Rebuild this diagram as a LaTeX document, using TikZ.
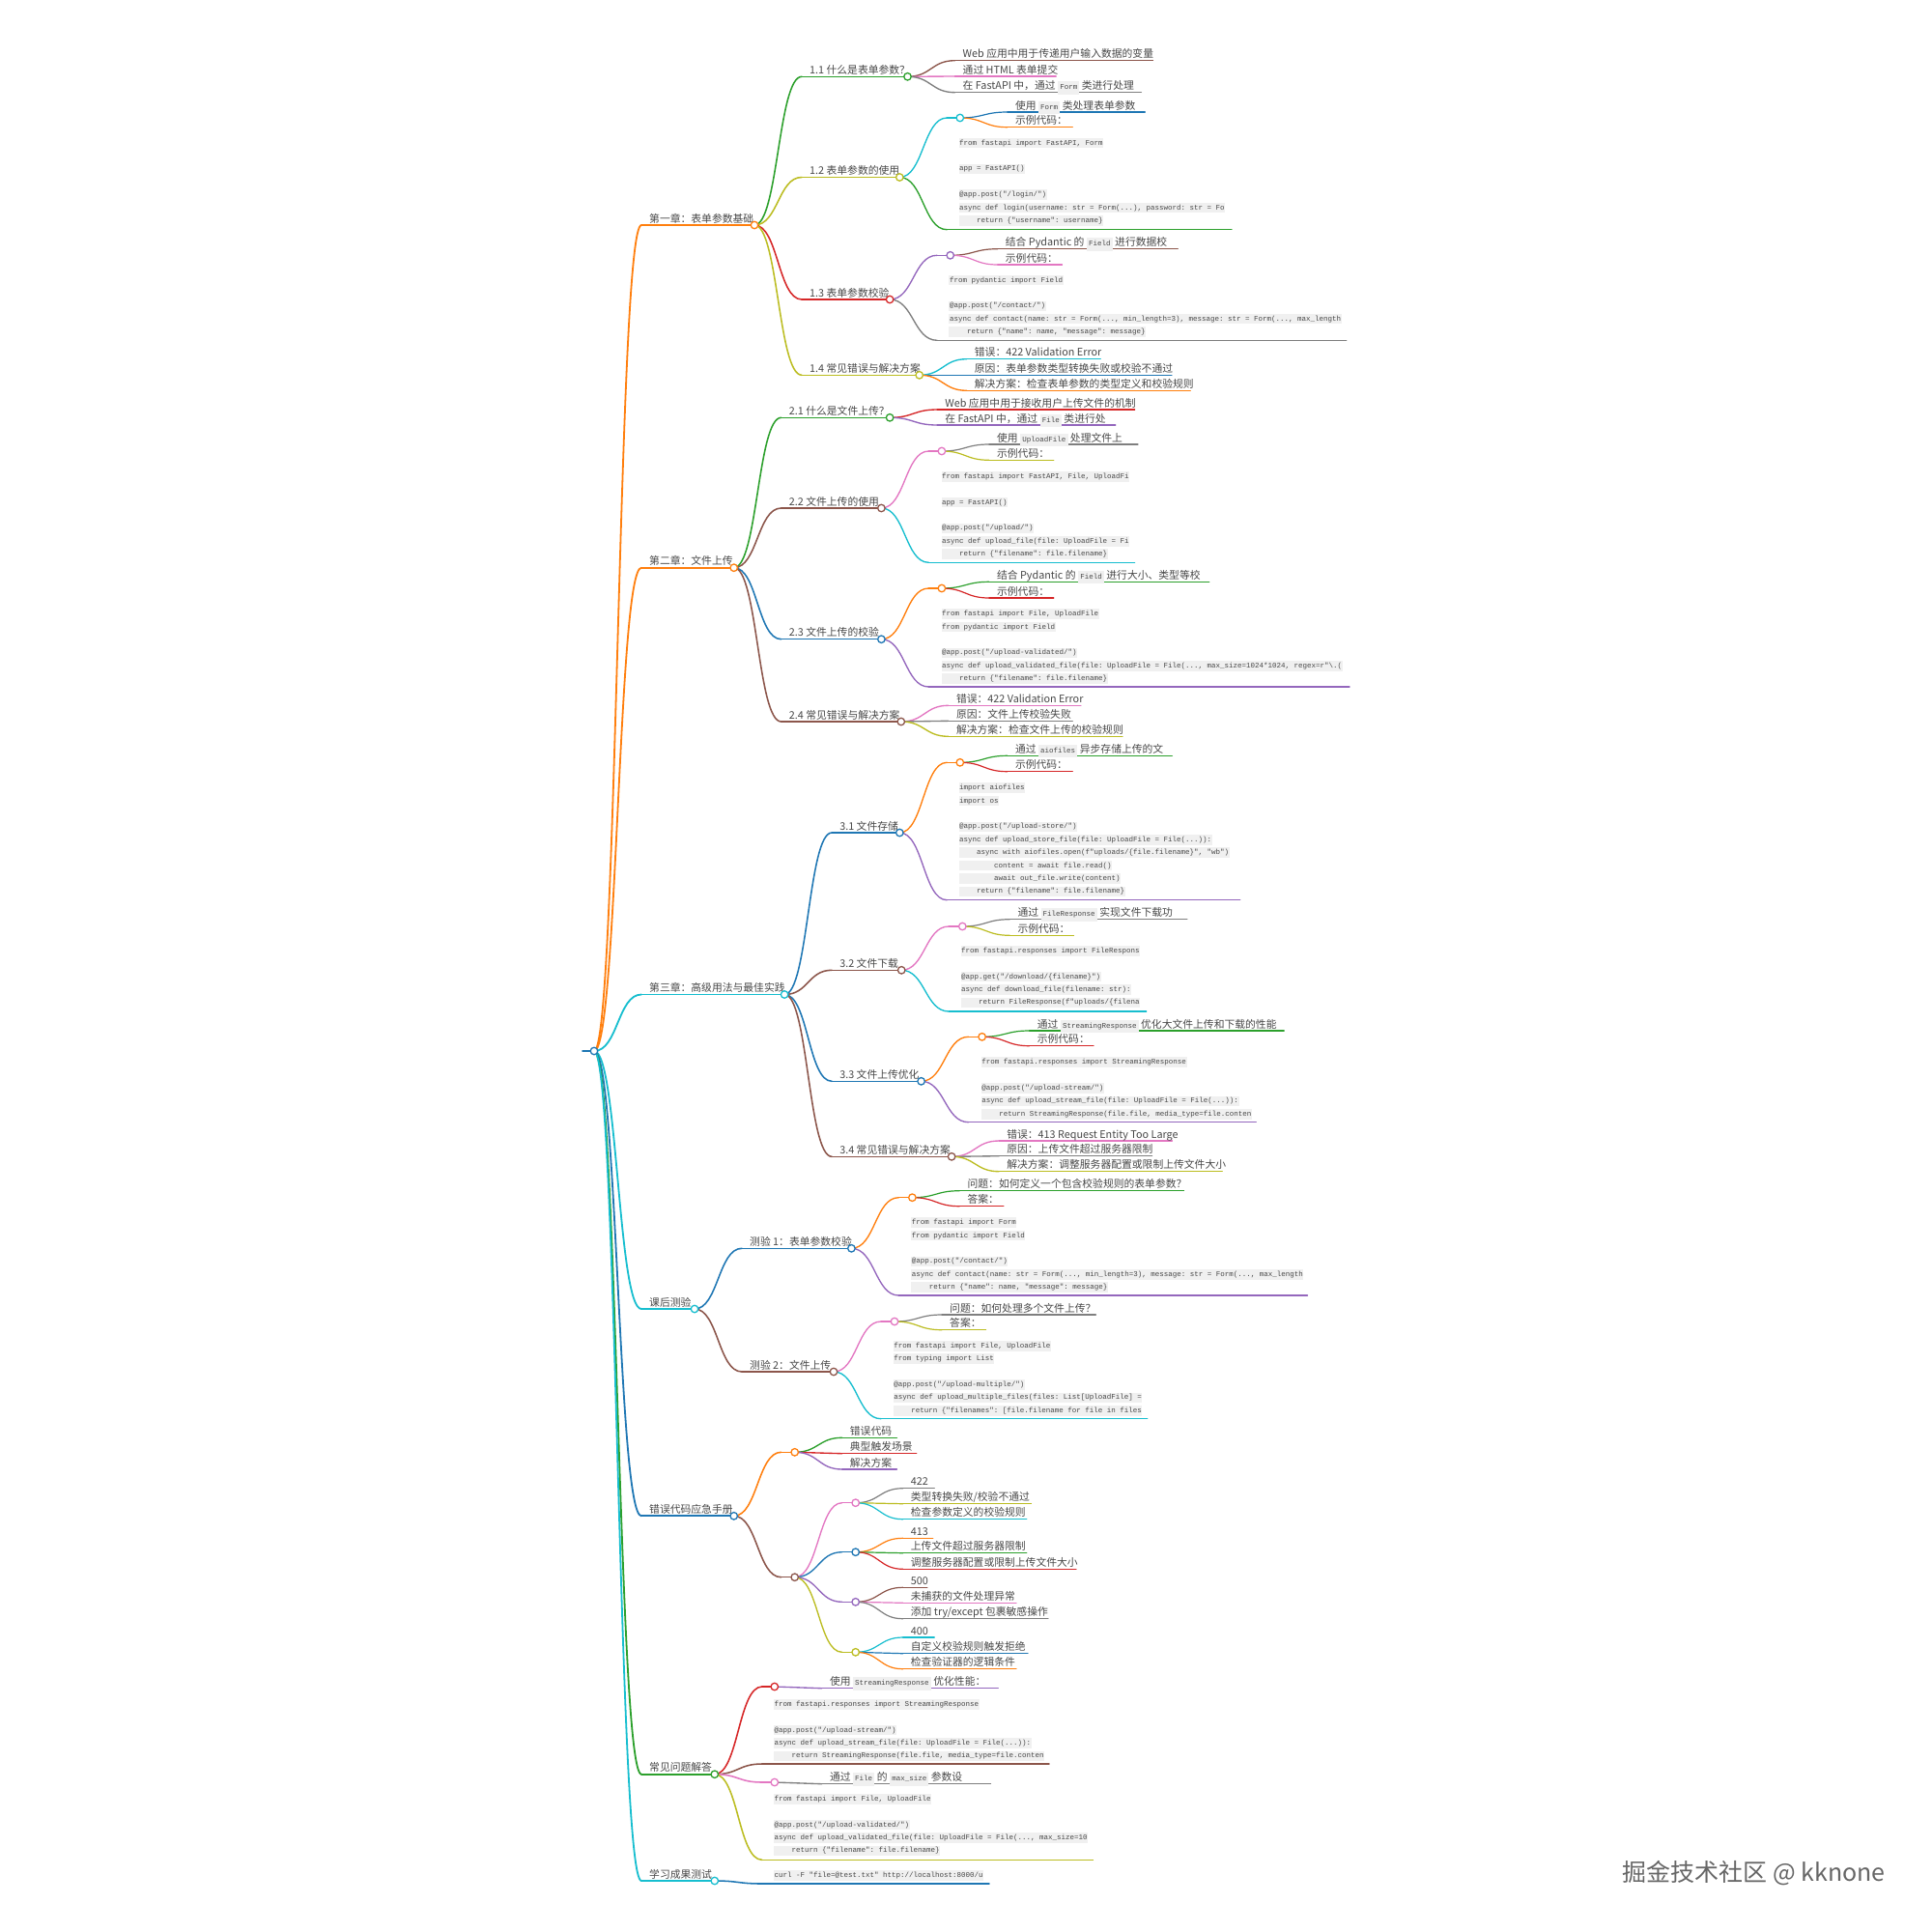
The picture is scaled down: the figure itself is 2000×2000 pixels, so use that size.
\documentclass[tikz,border=0pt]{standalone}
\usepackage{fontspec}
\setmainfont{Noto Sans CJK SC}
\setmonofont{Liberation Mono}
\usetikzlibrary{calc}
\definecolor{cBlue}{HTML}{1F77B4}
\definecolor{cOrange}{HTML}{FF7F0E}
\definecolor{cGreen}{HTML}{2CA02C}
\definecolor{cRed}{HTML}{D62728}
\definecolor{cPurple}{HTML}{9467BD}
\definecolor{cBrown}{HTML}{8C564B}
\definecolor{cPink}{HTML}{E377C2}
\definecolor{cGray}{HTML}{7F7F7F}
\definecolor{cOlive}{HTML}{BCBD22}
\definecolor{cCyan}{HTML}{17BECF}
\definecolor{codebg}{HTML}{F0F0F0}
\definecolor{txt}{HTML}{484848}
\pgfdeclarelayer{fg}
\pgfsetlayers{main,fg}
\newcommand\ic[1]{{\setlength\fboxsep{2.2pt}\colorbox{codebg}{\ttfamily\fontsize{7.5}{9}\selectfont\strut #1}}}
\tikzset{
  mml/.style={line cap=round},
  w1/.style={line width=1.8pt},
  w2/.style={line width=1.55pt},
  w3/.style={line width=1.35pt},
  w4/.style={line width=1.2pt},
  mmdot/.style={circle, fill=white, inner sep=0pt, minimum size=7.5pt},
  lbl/.style={anchor=base west, inner sep=0pt, text=txt, font=\fontsize{10.8}{13}\selectfont},
  codeln/.style={anchor=west, inner xsep=0.6pt, inner ysep=1.75pt, text height=5.5pt, text depth=1.5pt, fill=codebg, text=txt, font=\ttfamily\fontsize{7.5}{9}\selectfont},
  wm/.style={anchor=east, inner sep=0pt, text=black!60, font=\fontsize{25}{30}\selectfont}
}
% name, xs, xe, y, style, text
\newcommand\mmnode[6]{%
  \coordinate (#1-s) at (#2,#4);
  \draw[mml,#5] (#1-s) -- (#3,#4) coordinate (#1-e);
  \node[lbl] (#1-t) at (#2+8,#4-2.8) {#6};}
\newcommand\mmdot[4]{%
  \begin{pgfonlayer}{fg}\node[mmdot,draw=#4,line width=1.3pt] (#1) at (#2,#3) {};\end{pgfonlayer}}
\newcommand\mmpar[6]{\mmnode{#1}{#2}{#3}{#4}{#5}{#6}\mmdot{#1}{#3}{#4}{#5}}
\newcommand\mmcode[5]{%
  \coordinate (#1-s) at (#2,#4);
  \draw[mml,#5] (#1-s) -- (#3,#4) coordinate (#1-e);}
\newcommand\cl[4]{\node[codeln] (#1) at (#2,#3) {#4};}
\newcommand\mmlink[3]{\draw[mml,#3] let \p1=(#1), \p2=(#2-s) in (\p1) .. controls ({(\x1+\x2)/2},\y1) and ({(\x1+\x2)/2},\y2) .. (\p2);}
\begin{document}
\begin{tikzpicture}[x=1pt,y=-1pt]
\useasboundingbox[fill=white] (0,0) rectangle (2000,2000);

% root
\coordinate (root-s) at (603,1088);
\draw[mml,cBlue,w1] (root-s) -- (615,1088);
\mmdot{root}{615}{1088}{cBlue}

% level 1
\mmpar{ch1}{664}{781}{233}{cOrange,w1}{第一章：表单参数基础}
\mmpar{ch2}{664}{759.7}{587.7}{cOrange,w1}{第二章：文件上传}
\mmpar{ch3}{664}{812.1}{1029.5}{cCyan,w1}{第三章：高级用法与最佳实践}
\mmpar{quiz}{664}{719}{1355}{cCyan,w1}{课后测验}
\mmpar{err}{664}{759.7}{1569.3}{cBlue,w1}{错误代码应急手册}
\mmpar{faq}{664}{739.8}{1836.7}{cGreen,w1}{常见问题解答}
\mmpar{learn}{664}{739.8}{1947}{cCyan,w1}{学习成果测试}
\mmlink{root}{ch1}{cOrange,w1}
\mmlink{root}{ch2}{cOrange,w1}
\mmlink{root}{ch3}{cCyan,w1}
\mmlink{root}{quiz}{cCyan,w1}
\mmlink{root}{err}{cBlue,w1}
\mmlink{root}{faq}{cGreen,w1}
\mmlink{root}{learn}{cCyan,w1}

% ===== chapter 1
\mmpar{s11}{830}{939.5}{79.3}{cGreen,w2}{1.1 什么是表单参数？}
\mmpar{s12}{830}{931.3}{183.5}{cOlive,w2}{1.2 表单参数的使用}
\mmpar{s13}{830}{921.1}{310}{cRed,w2}{1.3 表单参数校验}
\mmpar{s14}{830}{951.7}{388.3}{cOlive,w2}{1.4 常见错误与解决方案}
\mmlink{ch1}{s11}{cGreen,w2}
\mmlink{ch1}{s12}{cOlive,w2}
\mmlink{ch1}{s13}{cRed,w2}
\mmlink{ch1}{s14}{cOlive,w2}

\mmnode{l111}{988.5}{1193.5}{62.7}{cBrown,w3}{Web 应用中用于传递用户输入数据的变量}
\mmnode{l112}{988.5}{1093.2}{79}{cPink,w3}{通过 HTML 表单提交}
\mmnode{l113}{988.5}{1181.4}{95.7}{cGray,w3}{在 FastAPI 中，通过 \ic{Form} 类进行处理}
\mmlink{s11}{l111}{cBrown,w3}
\mmlink{s11}{l112}{cPink,w3}
\mmlink{s11}{l113}{cGray,w3}

\mmpar{e12}{980.3}{993.8}{122}{cCyan,w3}{}
\mmlink{s12}{e12}{cCyan,w3}
\mmnode{l121}{1042.8}{1185.3}{116}{cBlue,w4}{使用 \ic{Form} 类处理表单参数}
\mmnode{l122}{1042.8}{1110.2}{131.7}{cOrange,w4}{示例代码：}
\mmlink{e12}{l121}{cBlue,w4}
\mmlink{e12}{l122}{cOrange,w4}
\mmcode{c12}{980.3}{1275}{237.7}{cGreen,w3}
\mmlink{s12}{c12}{cGreen,w3}
\cl{c12a}{992.4}{148}{from fastapi import FastAPI, Form}
\cl{c12b}{992.4}{174.8}{app = FastAPI()}
\cl{c12c}{992.4}{201.6}{@app.post("/login/")}
\cl{c12d}{992.4}{215}{async def login(username: str = Form(...), password: str = Fo}
\cl{c12e}{992.4}{228.4}{\ \ \ \ return \{"username": username\}}

\mmpar{e13}{970.1}{983.7}{264.3}{cPurple,w3}{}
\mmlink{s13}{e13}{cPurple,w3}
\mmnode{l131}{1032.7}{1219.2}{257.7}{cBrown,w4}{结合 Pydantic 的 \ic{Field} 进行数据校}
\mmnode{l132}{1032.7}{1099.5}{274}{cPink,w4}{示例代码：}
\mmlink{e13}{l131}{cBrown,w4}
\mmlink{e13}{l132}{cPink,w4}
\mmcode{c13}{970.1}{1393.7}{352.3}{cGray,w3}
\mmlink{s13}{c13}{cGray,w3}
\cl{c13a}{982.2}{290}{from pydantic import Field}
\cl{c13b}{982.2}{316.8}{@app.post("/contact/")}
\cl{c13c}{982.2}{330.2}{async def contact(name: str = Form(..., min\_length=3), message: str = Form(..., max\_length}
\cl{c13d}{982.2}{343.6}{\ \ \ \ return \{"name": name, "message": message\}}

\mmnode{l141}{1000.7}{1139.2}{371.7}{cCyan,w3}{错误：422 Validation Error}
\mmnode{l142}{1000.7}{1212.9}{388.3}{cBlue,w3}{原因：表单参数类型转换失败或校验不通过}
\mmnode{l143}{1000.7}{1232.3}{404.3}{cOrange,w3}{解决方案：检查表单参数的类型定义和校验规则}
\mmlink{s14}{l141}{cCyan,w3}
\mmlink{s14}{l142}{cBlue,w3}
\mmlink{s14}{l143}{cOrange,w3}

% ===== chapter 2
\mmpar{s21}{808.7}{921.1}{432.3}{cGreen,w2}{2.1 什么是文件上传？}
\mmpar{s22}{808.7}{912.4}{526}{cBrown,w2}{2.2 文件上传的使用}
\mmpar{s23}{808.7}{912.4}{661.7}{cBlue,w2}{2.3 文件上传的校验}
\mmpar{s24}{808.7}{932.8}{747}{cBrown,w2}{2.4 常见错误与解决方案}
\mmlink{ch2}{s21}{cGreen,w2}
\mmlink{ch2}{s22}{cBrown,w2}
\mmlink{ch2}{s23}{cBlue,w2}
\mmlink{ch2}{s24}{cBrown,w2}

\mmnode{l211}{970.1}{1174.6}{424}{cRed,w3}{Web 应用中用于接收用户上传文件的机制}
\mmnode{l212}{970.1}{1154.8}{440}{cPurple,w3}{在 FastAPI 中，通过 \ic{File} 类进行处}
\mmlink{s21}{l211}{cRed,w3}
\mmlink{s21}{l212}{cPurple,w3}

\mmpar{e22}{961.4}{974.9}{467}{cPink,w3}{}
\mmlink{s22}{e22}{cPink,w3}
\mmnode{l221}{1023.9}{1178}{460}{cGray,w4}{使用 \ic{UploadFile} 处理文件上}
\mmnode{l222}{1023.9}{1090.8}{476.3}{cOlive,w4}{示例代码：}
\mmlink{e22}{l221}{cGray,w4}
\mmlink{e22}{l222}{cOlive,w4}
\mmcode{c22}{961.4}{1174.6}{582.3}{cCyan,w3}
\mmlink{s22}{c22}{cCyan,w3}
\cl{c22a}{974.4}{493.3}{from fastapi import FastAPI, File, UploadFi}
\cl{c22b}{974.4}{520.1}{app = FastAPI()}
\cl{c22c}{974.4}{546.9}{@app.post("/upload/")}
\cl{c22d}{974.4}{560.3}{async def upload\_file(file: UploadFile = Fi}
\cl{c22e}{974.4}{573.7}{\ \ \ \ return \{"filename": file.filename\}}

\mmpar{e23}{961.4}{974.9}{609}{cOrange,w3}{}
\mmlink{s23}{e23}{cOrange,w3}
\mmnode{l231}{1023.9}{1251.7}{602.3}{cGreen,w4}{结合 Pydantic 的 \ic{Field} 进行大小、类型等校}
\mmnode{l232}{1023.9}{1090.8}{619}{cRed,w4}{示例代码：}
\mmlink{e23}{l231}{cGreen,w4}
\mmlink{e23}{l232}{cRed,w4}
\mmcode{c23}{961.4}{1397}{711}{cPurple,w3}
\mmlink{s23}{c23}{cPurple,w3}
\cl{c23a}{974.4}{635.7}{from fastapi import File, UploadFile}
\cl{c23b}{974.4}{649.1}{from pydantic import Field}
\cl{c23c}{974.4}{675.9}{@app.post("/upload-validated/")}
\cl{c23d}{974.4}{689.3}{async def upload\_validated\_file(file: UploadFile = File(..., max\_size=1024*1024, regex=r"\textbackslash.(}
\cl{c23e}{974.4}{702.7}{\ \ \ \ return \{"filename": file.filename\}}

\mmnode{l241}{981.8}{1118.9}{730.3}{cPink,w3}{错误：422 Validation Error}
\mmnode{l242}{981.8}{1110.2}{746.3}{cGray,w3}{原因：文件上传校验失败}
\mmnode{l243}{981.8}{1162}{762.3}{cOlive,w3}{解决方案：检查文件上传的校验规则}
\mmlink{s24}{l241}{cPink,w3}
\mmlink{s24}{l242}{cGray,w3}
\mmlink{s24}{l243}{cOlive,w3}

% ===== chapter 3
\mmpar{s31}{861.1}{931.3}{862}{cBlue,w2}{3.1 文件存储}
\mmpar{s32}{861.1}{933.2}{1004.3}{cBrown,w2}{3.2 文件下载}
\mmpar{s33}{861.1}{953.6}{1119.3}{cBlue,w2}{3.3 文件上传优化}
\mmpar{s34}{861.1}{985.1}{1197.3}{cBrown,w2}{3.4 常见错误与解决方案}
\mmlink{ch3}{s31}{cBlue,w2}
\mmlink{ch3}{s32}{cBrown,w2}
\mmlink{ch3}{s33}{cBlue,w2}
\mmlink{ch3}{s34}{cBrown,w2}

\mmpar{e31}{980.3}{993.8}{789.3}{cOrange,w3}{}
\mmlink{s31}{e31}{cOrange,w3}
\mmnode{l311}{1042.8}{1213.4}{782.3}{cGreen,w4}{通过 \ic{aiofiles} 异步存储上传的文}
\mmnode{l312}{1042.8}{1110.2}{798.7}{cRed,w4}{示例代码：}
\mmlink{e31}{l311}{cGreen,w4}
\mmlink{e31}{l312}{cRed,w4}
\mmcode{c31}{980.3}{1283.7}{931.7}{cPurple,w3}
\mmlink{s31}{c31}{cPurple,w3}
\cl{c31a}{992.4}{815.7}{import aiofiles}
\cl{c31b}{992.4}{829.1}{import os}
\cl{c31c}{992.4}{855.9}{@app.post("/upload-store/")}
\cl{c31d}{992.4}{869.3}{async def upload\_store\_file(file: UploadFile = File(...)):}
\cl{c31e}{992.4}{882.7}{\ \ \ \ async with aiofiles.open(f"uploads/\{file.filename\}", "wb")}
\cl{c31f}{992.4}{896.1}{\ \ \ \ \ \ \ \ content = await file.read()}
\cl{c31g}{992.4}{909.5}{\ \ \ \ \ \ \ \ await out\_file.write(content)}
\cl{c31h}{992.4}{922.9}{\ \ \ \ return \{"filename": file.filename\}}

\mmpar{e32}{982.2}{996.3}{959}{cPink,w3}{}
\mmlink{s32}{e32}{cPink,w3}
\mmnode{l321}{1045.3}{1228.9}{951.7}{cGray,w4}{通过 \ic{FileResponse} 实现文件下载功}
\mmnode{l322}{1045.3}{1111.6}{968.3}{cOlive,w4}{示例代码：}
\mmlink{e32}{l321}{cGray,w4}
\mmlink{e32}{l322}{cOlive,w4}
\mmcode{c32}{982.2}{1186.7}{1047}{cCyan,w3}
\mmlink{s32}{c32}{cCyan,w3}
\cl{c32a}{994.3}{984.3}{from fastapi.responses import FileRespons}
\cl{c32b}{994.3}{1011.1}{@app.get("/download/\{filename\}")}
\cl{c32c}{994.3}{1024.5}{async def download\_file(filename: str):}
\cl{c32d}{994.3}{1037.9}{\ \ \ \ return FileResponse(f"uploads/\{filena}

\mmpar{e33}{1002.6}{1016.6}{1073.3}{cOrange,w3}{}
\mmlink{s33}{e33}{cOrange,w3}
\mmnode{l331}{1065.6}{1329.2}{1067}{cGreen,w4}{通过 \ic{StreamingResponse} 优化大文件上传和下载的性能}
\mmnode{l332}{1065.6}{1132}{1082.7}{cRed,w4}{示例代码：}
\mmlink{e33}{l331}{cGreen,w4}
\mmlink{e33}{l332}{cRed,w4}
\mmcode{c33}{1002.6}{1300.2}{1161.7}{cPurple,w3}
\mmlink{s33}{c33}{cPurple,w3}
\cl{c33a}{1015.6}{1099.7}{from fastapi.responses import StreamingResponse}
\cl{c33b}{1015.6}{1126.5}{@app.post("/upload-stream/")}
\cl{c33c}{1015.6}{1139.9}{async def upload\_stream\_file(file: UploadFile = File(...)):}
\cl{c33d}{1015.6}{1153.3}{\ \ \ \ return StreamingResponse(file.file, media\_type=file.conten}

\mmnode{l341}{1034.1}{1213.4}{1181}{cPink,w3}{错误：413 Request Entity Too Large}
\mmnode{l342}{1034.1}{1192.6}{1196.7}{cGray,w3}{原因：上传文件超过服务器限制}
\mmnode{l343}{1034.1}{1265.3}{1212.7}{cOlive,w3}{解决方案：调整服务器配置或限制上传文件大小}
\mmlink{s34}{l341}{cPink,w3}
\mmlink{s34}{l342}{cGray,w3}
\mmlink{s34}{l343}{cOlive,w3}

% ===== quiz
\mmpar{q1}{768}{881.4}{1292.3}{cBlue,w2}{测验 1：表单参数校验}
\mmpar{q2}{768}{863}{1420}{cBrown,w2}{测验 2：文件上传}
\mmlink{quiz}{q1}{cBlue,w2}
\mmlink{quiz}{q2}{cBrown,w2}

\mmpar{eq1}{930.4}{944.4}{1239.7}{cOrange,w3}{}
\mmlink{q1}{eq1}{cOrange,w3}
\mmnode{lq11}{993.4}{1225.5}{1232.7}{cGreen,w4}{问题：如何定义一个包含校验规则的表单参数？}
\mmnode{lq12}{993.4}{1038.9}{1248.7}{cRed,w4}{答案：}
\mmlink{eq1}{lq11}{cGreen,w4}
\mmlink{eq1}{lq12}{cRed,w4}
\mmcode{cq1}{930.4}{1353.5}{1341}{cPurple,w3}
\mmlink{q1}{cq1}{cPurple,w3}
\cl{cq1a}{943}{1265.7}{from fastapi import Form}
\cl{cq1b}{943}{1279.1}{from pydantic import Field}
\cl{cq1c}{943}{1305.9}{@app.post("/contact/")}
\cl{cq1d}{943}{1319.3}{async def contact(name: str = Form(..., min\_length=3), message: str = Form(..., max\_length}
\cl{cq1e}{943}{1332.7}{\ \ \ \ return \{"name": name, "message": message\}}

\mmpar{eq2}{912}{926}{1368}{cPink,w3}{}
\mmlink{q2}{eq2}{cPink,w3}
\mmnode{lq21}{975}{1134.4}{1361}{cGray,w4}{问题：如何处理多个文件上传？}
\mmnode{lq22}{975}{1020.5}{1376.7}{cOlive,w4}{答案：}
\mmlink{eq2}{lq21}{cGray,w4}
\mmlink{eq2}{lq22}{cOlive,w4}
\mmcode{cq2}{912}{1187.7}{1468.7}{cCyan,w3}
\mmlink{q2}{cq2}{cCyan,w3}
\cl{cq2a}{924.5}{1393.3}{from fastapi import File, UploadFile}
\cl{cq2b}{924.5}{1406.7}{from typing import List}
\cl{cq2c}{924.5}{1433.5}{@app.post("/upload-multiple/")}
\cl{cq2d}{924.5}{1446.9}{async def upload\_multiple\_files(files: List[UploadFile] =}
\cl{cq2e}{924.5}{1460.3}{\ \ \ \ return \{"filenames": [file.filename for file in files}

% ===== error manual
\mmpar{eA}{808.7}{822.7}{1503.3}{cOrange,w2}{}
\mmpar{eB}{808.7}{822.7}{1632.7}{cBrown,w2}{}
\mmlink{err}{eA}{cOrange,w2}
\mmlink{err}{eB}{cBrown,w2}
\mmnode{lA1}{871.7}{928.4}{1488.3}{cGreen,w3}{错误代码}
\mmnode{lA2}{871.7}{948.8}{1504.7}{cRed,w3}{典型触发场景}
\mmnode{lA3}{871.7}{928.4}{1521}{cPurple,w3}{解决方案}
\mmlink{eA}{lA1}{cGreen,w3}
\mmlink{eA}{lA2}{cRed,w3}
\mmlink{eA}{lA3}{cPurple,w3}

\mmpar{eC1}{871.7}{885.7}{1555.7}{cPink,w3}{}
\mmpar{eC2}{871.7}{885.7}{1606.7}{cBlue,w3}{}
\mmpar{eC3}{871.7}{885.7}{1658.3}{cPurple,w3}{}
\mmpar{eC4}{871.7}{885.7}{1710.3}{cOlive,w3}{}
\mmlink{eB}{eC1}{cPink,w3}
\mmlink{eB}{eC2}{cBlue,w3}
\mmlink{eB}{eC3}{cPurple,w3}
\mmlink{eB}{eC4}{cOlive,w3}

\mmnode{lC11}{934.7}{967.2}{1540.7}{cGray,w4}{422}
\mmnode{lC12}{934.7}{1067.5}{1556.7}{cOlive,w4}{类型转换失败/校验不通过}
\mmnode{lC13}{934.7}{1062.7}{1572.7}{cCyan,w4}{检查参数定义的校验规则}
\mmlink{eC1}{lC11}{cGray,w4}
\mmlink{eC1}{lC12}{cOlive,w4}
\mmlink{eC1}{lC13}{cCyan,w4}
\mmnode{lC21}{934.7}{965.7}{1592.3}{cOrange,w4}{413}
\mmnode{lC22}{934.7}{1062.7}{1607.7}{cGreen,w4}{上传文件超过服务器限制}
\mmnode{lC23}{934.7}{1114}{1624.3}{cRed,w4}{调整服务器配置或限制上传文件大小}
\mmlink{eC2}{lC21}{cOrange,w4}
\mmlink{eC2}{lC22}{cGreen,w4}
\mmlink{eC2}{lC23}{cRed,w4}
\mmnode{lC31}{934.7}{959.9}{1643.3}{cBrown,w4}{500}
\mmnode{lC32}{934.7}{1052}{1659.3}{cPink,w4}{未捕获的文件处理异常}
\mmnode{lC33}{934.7}{1085}{1675.7}{cGray,w4}{添加 try/except 包裹敏感操作}
\mmlink{eC3}{lC31}{cBrown,w4}
\mmlink{eC3}{lC32}{cPink,w4}
\mmlink{eC3}{lC33}{cGray,w4}
\mmnode{lC41}{934.7}{967.2}{1695}{cCyan,w4}{400}
\mmnode{lC42}{934.7}{1064.1}{1711.7}{cBlue,w4}{自定义校验规则触发拒绝}
\mmnode{lC43}{934.7}{1052}{1727.7}{cOrange,w4}{检查验证器的逻辑条件}
\mmlink{eC4}{lC41}{cCyan,w4}
\mmlink{eC4}{lC42}{cBlue,w4}
\mmlink{eC4}{lC43}{cOrange,w4}

% ===== FAQ
\mmpar{eF1}{788.8}{801.8}{1746}{cRed,w2}{}
\mmlink{faq}{eF1}{cRed,w2}
\mmnode{lF1}{850.8}{1033.2}{1747.7}{cPurple,w3}{使用 \ic{StreamingResponse} 优化性能：}
\mmlink{eF1}{lF1}{cPurple,w3}
\mmcode{cF1}{788.8}{1086}{1826}{cBrown,w2}
\mmlink{faq}{cF1}{cBrown,w2}
\cl{cF1a}{800.8}{1764.3}{from fastapi.responses import StreamingResponse}
\cl{cF1b}{800.8}{1791.1}{@app.post("/upload-stream/")}
\cl{cF1c}{800.8}{1804.5}{async def upload\_stream\_file(file: UploadFile = File(...)):}
\cl{cF1d}{800.8}{1817.9}{\ \ \ \ return StreamingResponse(file.file, media\_type=file.conten}

\mmpar{eF2}{788.8}{801.8}{1845}{cPink,w2}{}
\mmlink{faq}{eF2}{cPink,w2}
\mmnode{lF2}{850.8}{1025.5}{1846.7}{cGray,w3}{通过 \ic{File} 的 \ic{max\_size} 参数设}
\mmlink{eF2}{lF2}{cGray,w3}
\mmcode{cF2}{788.8}{1131.4}{1925.3}{cOlive,w2}
\mmlink{faq}{cF2}{cOlive,w2}
\cl{cF2a}{800.8}{1862.3}{from fastapi import File, UploadFile}
\cl{cF2b}{800.8}{1889.1}{@app.post("/upload-validated/")}
\cl{cF2c}{800.8}{1902.5}{async def upload\_validated\_file(file: UploadFile = File(..., max\_size=10}
\cl{cF2d}{800.8}{1915.9}{\ \ \ \ return \{"filename": file.filename\}}

% ===== learn
\mmcode{cL}{788.8}{1024}{1950}{cBlue,w2}
\mmlink{learn}{cL}{cBlue,w2}
\cl{cLa}{800.8}{1941.7}{curl -F "file=@test.txt" http://localhost:8000/u}

% watermark
\node[wm] (wmark) at (1952,1939) {掘金技术社区 @ kknone};
\end{tikzpicture}
\end{document}
